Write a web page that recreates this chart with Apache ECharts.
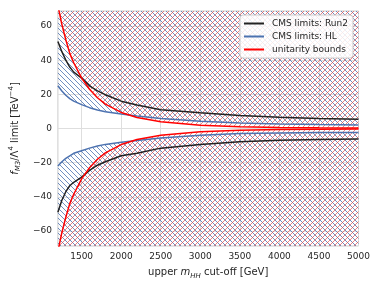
<!DOCTYPE html>
<html><head><meta charset="utf-8">
<script src="https://cdn.jsdelivr.net/npm/echarts@6/dist/echarts.min.js"></script>
<style>html,body{margin:0;padding:0;background:#fff}#c{width:382px;height:287px}</style>
</head><body><div id="c"></div>
<script>
const mhhCut = [1200,1250,1300,1350,1400,1500,1600,1700,1800,2000,2200,2500,3000,3500,4000,4500,5000];
const run2Upper = [51,45,40,36,33,29.5,25,22,19.8,16,13.8,11,9.2,7.6,6.6,5.9,5.4];
const run2Lower = [-49,-42,-37,-33.5,-31.5,-28.5,-24.5,-21.5,-19.5,-16,-14.5,-11.5,-9.4,-7.8,-6.9,-6.5,-6.2];
const hlUpper = [25,22,19.5,17.5,16,14,12.2,10.8,9.8,8.5,7.3,5.8,4.3,3.2,2.7,2.3,2.0];
const hlLower = [-22,-19.5,-17.5,-16,-14.5,-13,-11.5,-10.2,-9.3,-8,-7,-5.5,-4,-3,-2.6,-2.4,-2.3];
const unitUpper = [72,61,52,44,38.5,29.5,23,18,14.3,9.4,6.4,3.9,1.9,1.0,0.6,0.38,0.25];
const unitLower = [-72,-61,-52,-44,-38.5,-29.5,-23,-18,-14.3,-9.4,-6.4,-3.9,-1.9,-1.0,-0.6,-0.38,-0.25];
const xTicks = [1500,2000,2500,3000,3500,4000,4500,5000];
const yTicks = [-60,-40,-20,0,20,40,60];
const names = ['CMS limits: Run2','CMS limits: HL','unitarity bounds'];

const BLACK = '#222222', BLUE = '#4c72b0', RED = '#ff0000';
function hatch(color, dir) {
  const s = 5, c = document.createElement('canvas');
  c.width = s; c.height = s;
  const g = c.getContext('2d');
  g.fillStyle = color;
  for (let i = 0; i < s; i++) {
    if (dir === '/') g.fillRect(s - 1 - i, i, 1, 1);
    else g.fillRect(i, i, 1, 1);
  }
  return {image: c, repeat: 'repeat'};
}
const pairs = ys => mhhCut.map((x, i) => [x, ys[i]]);
function area(ys, color, dir, origin) {
  return {type:'line', data: pairs(ys), symbol:'none', silent:true, z:1,
    lineStyle:{width:0, opacity:0}, areaStyle:{color: hatch(color, dir), origin: origin, opacity:1}};
}
function line(name, ys, color) {
  return {type:'line', name: name, data: pairs(ys), symbol:'none', z:3,
    lineStyle:{width:1.5, color: color}, itemStyle:{color: color}};
}
const fmt = v => String(v).replace('-', '\u2212');
const chart = echarts.init(document.getElementById('c'), null, {renderer:'canvas'});
chart.setOption({
  animation:false,
  textStyle:{fontFamily:'DejaVu Sans'},
  grid:{left:53.3, right:23.5, top:11, bottom:41, show:true, borderColor:'#cccccc', borderWidth:1, backgroundColor:'#fff'},
  legend:{data:names, orient:'vertical', left:240, top:15, padding:[4,5,4,3], itemGap:4,
    itemWidth:20, itemHeight:10, itemStyle:{opacity:0}, backgroundColor:'rgba(255,255,255,0.85)', borderColor:'#cccccc',
    borderWidth:1, borderRadius:3, textStyle:{fontSize:9, color:'#262626', fontFamily:'DejaVu Sans', padding:[0,0,0,3]}},
  xAxis:{type:'value', min:1200, max:5000,
    axisLine:{show:false}, axisTick:{show:false, customValues: xTicks},
    axisLabel:{customValues: xTicks, fontSize:9, color:'#262626', margin:6, formatter: v => String(v)},
    splitLine:{show:true, lineStyle:{color:'#dedede', width:1}},
    name:'upper {it|m}{sub|HH} cut-off [GeV]', nameLocation:'middle', nameGap:13,
    nameTextStyle:{fontSize:10, color:'#262626', lineHeight:14,
      rich:{it:{fontStyle:'italic', fontSize:10, color:'#262626'}, sub:{fontStyle:'italic', fontSize:7, verticalAlign:'bottom', lineHeight:14, color:'#262626'}}}},
  yAxis:{type:'value', min:-68.8, max:68.8,
    axisLine:{show:false}, axisTick:{show:false, customValues: yTicks},
    axisLabel:{customValues: yTicks, fontSize:9, color:'#262626', margin:6, formatter: fmt},
    splitLine:{show:true, lineStyle:{color:'#dedede', width:1}},
    name:'{it|f}{sub|M3}/\u039b{sup|4} limit [TeV{sup|\u22124}]', nameLocation:'middle', nameGap:26, nameRotate:90,
    nameTextStyle:{fontSize:10, color:'#262626', lineHeight:14,
      rich:{it:{fontStyle:'italic', fontSize:10, color:'#262626'},
        sub:{fontStyle:'italic', fontSize:7, verticalAlign:'bottom', lineHeight:14, color:'#262626'},
        sup:{fontSize:7, verticalAlign:'top', lineHeight:14, color:'#262626'}}}},
  series:[
    area(hlUpper, 'rgba(76,114,176,0.8)', '\\', 'end'),
    area(hlLower, 'rgba(76,114,176,0.8)', '\\', 'start'),
    area(unitUpper, 'rgba(228,80,80,0.7)', '/', 'end'),
    area(unitLower, 'rgba(228,80,80,0.7)', '/', 'start'),
    line(names[0], run2Upper, BLACK),
    line(names[0], run2Lower, BLACK),
    line(names[1], hlUpper, BLUE),
    line(names[1], hlLower, BLUE),
    line(names[2], unitUpper, RED),
    line(names[2], unitLower, RED)
  ]
});
</script></body></html>
